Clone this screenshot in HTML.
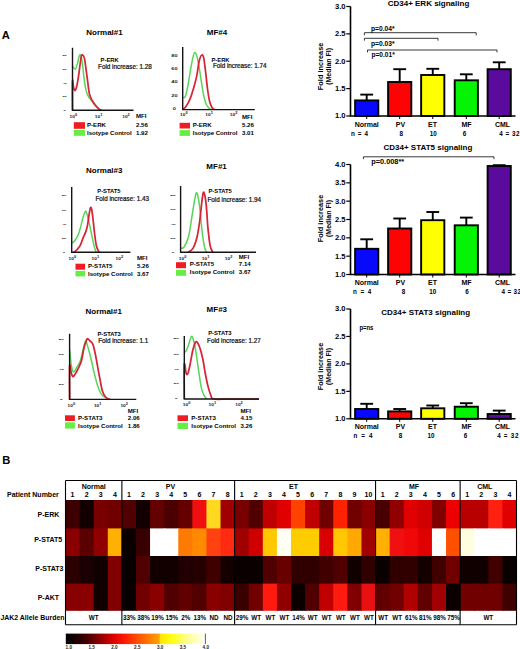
<!DOCTYPE html><html><head><meta charset="utf-8"><style>html,body{margin:0;padding:0;background:#fff;overflow:hidden;}svg{display:block;font-family:"Liberation Sans",sans-serif;}</style></head><body>
<svg width="520" height="649" viewBox="0 0 520 649">
<rect width="520" height="649" fill="#fff"/>
<text x="1.7" y="38.7" font-size="11.2" font-weight="bold">A</text>
<text x="2.2" y="464.3" font-size="11.2" font-weight="bold">B</text>
<text x="104.5" y="35.4" font-size="8" font-weight="bold" text-anchor="middle">Normal#1</text>
<text transform="translate(64.6,56.09) scale(1.22,0.6)" font-size="3.2" font-weight="bold" text-anchor="middle" fill="#222">80</text>
<text transform="translate(64.6,69.59) scale(1.22,0.6)" font-size="3.2" font-weight="bold" text-anchor="middle" fill="#222">60</text>
<text transform="translate(64.6,83.69) scale(1.22,0.6)" font-size="3.2" font-weight="bold" text-anchor="middle" fill="#222">40</text>
<text transform="translate(64.6,97.29) scale(1.22,0.6)" font-size="3.2" font-weight="bold" text-anchor="middle" fill="#222">20</text>
<text transform="translate(64.6,110.69) scale(1.22,0.6)" font-size="3.2" font-weight="bold" text-anchor="middle" fill="#222">0</text>
<text transform="translate(73.4,117.8) scale(1.35,1)" font-size="3.6" font-weight="bold" text-anchor="middle" fill="#1a1a1a">10<tspan font-size="2.9" dy="-1.6">0</tspan></text>
<text transform="translate(98.6,117.8) scale(1.35,1)" font-size="3.6" font-weight="bold" text-anchor="middle" fill="#1a1a1a">10<tspan font-size="2.9" dy="-1.6">1</tspan></text>
<text transform="translate(126,117.8) scale(1.35,1)" font-size="3.6" font-weight="bold" text-anchor="middle" fill="#1a1a1a">10<tspan font-size="2.9" dy="-1.6">2</tspan></text>
<path d="M72.5,65.9 C72.93,66.47 74.28,69.65 75.1,69.3 C75.92,68.95 76.67,66.1 77.4,63.8 C78.13,61.5 78.88,56.72 79.5,55.5 C80.12,54.28 80.57,54.77 81.1,56.5 C81.63,58.23 82.18,62.05 82.7,65.9 C83.22,69.75 83.6,75.4 84.2,79.6 C84.8,83.8 85.52,88.13 86.3,91.1 C87.08,94.07 87.77,95.57 88.9,97.4 C90.03,99.23 91.7,100.53 93.1,102.1 C94.5,103.67 96.07,105.48 97.3,106.8 C98.53,108.12 99.8,109.42 100.5,110 C101.2,110.58 101.33,110.25 101.5,110.3" fill="none" stroke="#58d458" stroke-width="1.5" stroke-linejoin="round"/>
<path d="M72.5,110.3 C72.5,105.43 72.32,84.9 72.5,81.1 C72.68,77.3 73.17,85.93 73.6,87.5 C74.03,89.07 74.57,90.75 75.1,90.5 C75.63,90.25 76.23,88.35 76.8,86 C77.37,83.65 77.78,81.13 78.5,76.4 C79.22,71.67 80.4,61.17 81.1,57.6 C81.8,54.03 82.13,54.83 82.7,55 C83.27,55.17 83.9,55.9 84.5,58.6 C85.1,61.3 85.7,66.83 86.3,71.2 C86.9,75.57 87.57,80.97 88.1,84.8 C88.63,88.63 88.83,91.58 89.5,94.2 C90.17,96.82 91.15,98.67 92.1,100.5 C93.05,102.33 93.98,103.72 95.2,105.2 C96.42,106.68 98.35,108.55 99.4,109.4 C100.45,110.25 101.15,110.15 101.5,110.3" fill="none" stroke="#d42636" stroke-width="1.75" stroke-linejoin="round"/>
<path d="M72.5,47.7V110.3H133.5" fill="none" stroke="#141414" stroke-width="1.4"/>
<text x="100.6" y="61.9" font-size="5.8" font-weight="bold">P-ERK</text>
<text x="98.1" y="68.5" font-size="6.3" fill="#111" stroke="#111" stroke-width="0.22">Fold increase: 1.28</text>
<rect x="73.8" y="122.2" width="11.2" height="6.6" fill="#ee1c24"/>
<rect x="73.8" y="130" width="11.2" height="5.8" fill="#66ee44"/>
<text x="87" y="127.3" font-size="6.1" font-weight="bold">P-ERK</text>
<text x="87" y="135" font-size="6.1" font-weight="bold">Isotype Control</text>
<text x="136" y="118" font-size="6.1" font-weight="bold">MFI</text>
<text x="136" y="127.3" font-size="6.1" font-weight="bold">2.56</text>
<text x="136" y="135" font-size="6.1" font-weight="bold">1.92</text>
<text x="217" y="34.6" font-size="8" font-weight="bold" text-anchor="middle">MF#4</text>
<text transform="translate(174.4,57.3) scale(1.57,0.85)" font-size="3.6" font-weight="bold" text-anchor="middle" fill="#222">80</text>
<text transform="translate(174.4,69.9) scale(1.57,0.85)" font-size="3.6" font-weight="bold" text-anchor="middle" fill="#222">60</text>
<text transform="translate(174.4,83.4) scale(1.57,0.85)" font-size="3.6" font-weight="bold" text-anchor="middle" fill="#222">40</text>
<text transform="translate(174.4,96.9) scale(1.57,0.85)" font-size="3.6" font-weight="bold" text-anchor="middle" fill="#222">20</text>
<text transform="translate(174.4,110.1) scale(1.57,0.85)" font-size="3.6" font-weight="bold" text-anchor="middle" fill="#222">0</text>
<text transform="translate(183.8,116) scale(1.35,1)" font-size="3.6" font-weight="bold" text-anchor="middle" fill="#1a1a1a">10<tspan font-size="2.9" dy="-1.6">0</tspan></text>
<text transform="translate(209.1,116) scale(1.35,1)" font-size="3.6" font-weight="bold" text-anchor="middle" fill="#1a1a1a">10<tspan font-size="2.9" dy="-1.6">1</tspan></text>
<text transform="translate(233.6,116) scale(1.35,1)" font-size="3.6" font-weight="bold" text-anchor="middle" fill="#1a1a1a">10<tspan font-size="2.9" dy="-1.6">2</tspan></text>
<path d="M182.9,97.6 C183.32,97.4 184.57,98.42 185.4,96.4 C186.23,94.38 186.98,90.28 187.9,85.5 C188.82,80.72 190,72.63 190.9,67.7 C191.8,62.77 192.65,58.42 193.3,55.9 C193.95,53.38 194.22,52.6 194.8,52.6 C195.38,52.6 196.07,53.38 196.8,55.9 C197.53,58.42 198.47,63.58 199.2,67.7 C199.93,71.82 200.45,75.98 201.2,80.6 C201.95,85.22 202.87,91.45 203.7,95.4 C204.53,99.35 205.3,102.17 206.2,104.3 C207.1,106.43 208.3,107.32 209.1,108.2 C209.9,109.08 210.68,109.37 211,109.6" fill="none" stroke="#58d458" stroke-width="1.5" stroke-linejoin="round"/>
<path d="M182.7,109.6 C183.23,109.08 184.7,108.22 185.9,106.5 C187.1,104.78 188.58,102.47 189.9,99.3 C191.22,96.13 192.65,91.45 193.8,87.5 C194.95,83.55 195.9,80.02 196.8,75.6 C197.7,71.18 198.38,64.42 199.2,61 C200.02,57.58 200.95,55.62 201.7,55.1 C202.45,54.58 203.03,54.97 203.7,57.9 C204.37,60.83 205.05,67.43 205.7,72.7 C206.35,77.97 206.95,84.73 207.6,89.5 C208.25,94.27 208.85,98.27 209.6,101.3 C210.35,104.33 211.28,106.32 212.1,107.7 C212.92,109.08 214.1,109.28 214.5,109.6" fill="none" stroke="#d42636" stroke-width="1.75" stroke-linejoin="round"/>
<path d="M182.7,47.1V109.6H254.8" fill="none" stroke="#141414" stroke-width="1.4"/>
<text x="211.5" y="62" font-size="5.8" font-weight="bold">P-ERK</text>
<text x="212.9" y="68.3" font-size="6.3" fill="#111" stroke="#111" stroke-width="0.22">Fold increase: 1.74</text>
<rect x="179.6" y="122.8" width="10.4" height="5.7" fill="#ee1c24"/>
<rect x="179.6" y="130.1" width="10.4" height="5.8" fill="#66ee44"/>
<text x="192.7" y="126.5" font-size="6.1" font-weight="bold">P-ERK</text>
<text x="192.7" y="134.7" font-size="6.1" font-weight="bold">Isotype Control</text>
<text x="242" y="118.7" font-size="6.1" font-weight="bold">MFI</text>
<text x="242" y="126.5" font-size="6.1" font-weight="bold">5.26</text>
<text x="242" y="134.7" font-size="6.1" font-weight="bold">3.01</text>
<text x="104.25" y="172.5" font-size="8" font-weight="bold" text-anchor="middle">Normal#3</text>
<text transform="translate(64,196.29) scale(1.22,0.6)" font-size="3.2" font-weight="bold" text-anchor="middle" fill="#222">80</text>
<text transform="translate(64,210.69) scale(1.22,0.6)" font-size="3.2" font-weight="bold" text-anchor="middle" fill="#222">60</text>
<text transform="translate(64,225.09) scale(1.22,0.6)" font-size="3.2" font-weight="bold" text-anchor="middle" fill="#222">40</text>
<text transform="translate(64,239.19) scale(1.22,0.6)" font-size="3.2" font-weight="bold" text-anchor="middle" fill="#222">20</text>
<text transform="translate(64,252.99) scale(1.22,0.6)" font-size="3.2" font-weight="bold" text-anchor="middle" fill="#222">0</text>
<text transform="translate(72.3,259.8) scale(1.35,1)" font-size="3.6" font-weight="bold" text-anchor="middle" fill="#1a1a1a">10<tspan font-size="2.9" dy="-1.6">0</tspan></text>
<text transform="translate(95.4,259.8) scale(1.35,1)" font-size="3.6" font-weight="bold" text-anchor="middle" fill="#1a1a1a">10<tspan font-size="2.9" dy="-1.6">1</tspan></text>
<text transform="translate(119.4,259.8) scale(1.35,1)" font-size="3.6" font-weight="bold" text-anchor="middle" fill="#1a1a1a">10<tspan font-size="2.9" dy="-1.6">2</tspan></text>
<path d="M71.9,243.1 C72.4,242.67 73.83,241.93 74.9,240.5 C75.97,239.07 77.3,236.93 78.3,234.5 C79.3,232.07 80.1,228.78 80.9,225.9 C81.7,223.02 82.38,219.58 83.1,217.2 C83.82,214.82 84.63,212.38 85.2,211.6 C85.77,210.82 85.92,210.98 86.5,212.5 C87.08,214.02 87.9,217.32 88.7,220.7 C89.5,224.08 90.52,229.07 91.3,232.8 C92.08,236.53 92.68,240.08 93.4,243.1 C94.12,246.12 95.07,249.37 95.6,250.9 C96.13,252.43 96.43,252.07 96.6,252.3" fill="none" stroke="#58d458" stroke-width="1.5" stroke-linejoin="round"/>
<path d="M74,252.3 C74.43,251.92 75.58,251.1 76.6,250 C77.62,248.9 79.02,247.72 80.1,245.7 C81.18,243.68 82.17,240.2 83.1,237.9 C84.03,235.6 84.98,233.9 85.7,231.9 C86.42,229.9 86.83,228.77 87.4,225.9 C87.97,223.03 88.6,217.72 89.1,214.7 C89.6,211.68 89.97,208.67 90.4,207.8 C90.83,206.93 91.27,207.63 91.7,209.5 C92.13,211.37 92.5,214.83 93,219 C93.5,223.17 94.13,230.05 94.7,234.5 C95.27,238.95 95.75,242.9 96.4,245.7 C97.05,248.5 98.02,250.2 98.6,251.3 C99.18,252.4 99.68,252.13 99.9,252.3" fill="none" stroke="#d42636" stroke-width="1.75" stroke-linejoin="round"/>
<path d="M71.7,187V252.3H130.4" fill="none" stroke="#141414" stroke-width="1.4"/>
<text x="97.3" y="192.7" font-size="5.8" font-weight="bold">P-STAT5</text>
<text x="95.4" y="201.3" font-size="6.3" fill="#111" stroke="#111" stroke-width="0.22">Fold increase: 1.43</text>
<rect x="75.5" y="263.7" width="9.6" height="6" fill="#ee1c24"/>
<rect x="75.5" y="270.9" width="9.6" height="5.5" fill="#66ee44"/>
<text x="88" y="268.4" font-size="6.1" font-weight="bold">P-STAT5</text>
<text x="88" y="276" font-size="6.1" font-weight="bold">Isotype Control</text>
<text x="137" y="260.3" font-size="6.1" font-weight="bold">MFI</text>
<text x="137" y="268.4" font-size="6.1" font-weight="bold">5.26</text>
<text x="137" y="276" font-size="6.1" font-weight="bold">3.67</text>
<text x="216.6" y="169" font-size="8" font-weight="bold" text-anchor="middle">MF#1</text>
<text transform="translate(173,195.76) scale(1.4,0.62)" font-size="3.4" font-weight="bold" text-anchor="middle" fill="#222">80</text>
<text transform="translate(173,209.76) scale(1.4,0.62)" font-size="3.4" font-weight="bold" text-anchor="middle" fill="#222">60</text>
<text transform="translate(173,224.76) scale(1.4,0.62)" font-size="3.4" font-weight="bold" text-anchor="middle" fill="#222">40</text>
<text transform="translate(173,238.56) scale(1.4,0.62)" font-size="3.4" font-weight="bold" text-anchor="middle" fill="#222">20</text>
<text transform="translate(173,252.56) scale(1.4,0.62)" font-size="3.4" font-weight="bold" text-anchor="middle" fill="#222">0</text>
<text transform="translate(182.6,259.8) scale(1.35,1)" font-size="3.6" font-weight="bold" text-anchor="middle" fill="#1a1a1a">10<tspan font-size="2.9" dy="-1.6">0</tspan></text>
<text transform="translate(205.6,259.8) scale(1.35,1)" font-size="3.6" font-weight="bold" text-anchor="middle" fill="#1a1a1a">10<tspan font-size="2.9" dy="-1.6">1</tspan></text>
<text transform="translate(228.6,259.8) scale(1.35,1)" font-size="3.6" font-weight="bold" text-anchor="middle" fill="#1a1a1a">10<tspan font-size="2.9" dy="-1.6">2</tspan></text>
<path d="M180.8,248.3 C181.33,248.08 182.72,248.93 184,247 C185.28,245.07 187.17,241.83 188.5,236.7 C189.83,231.57 190.95,222.47 192,216.2 C193.05,209.93 194,203 194.8,199.1 C195.6,195.2 196.03,191.85 196.8,192.8 C197.57,193.75 198.68,199.95 199.4,204.8 C200.12,209.65 200.53,216.58 201.1,221.9 C201.67,227.22 202.23,232.52 202.8,236.7 C203.37,240.88 203.9,244.42 204.5,247 C205.1,249.58 206.08,251.33 206.4,252.2" fill="none" stroke="#58d458" stroke-width="1.5" stroke-linejoin="round"/>
<path d="M188.3,252.2 C189.1,251.52 191.63,250.68 193.1,248.1 C194.57,245.52 195.97,241.45 197.1,236.7 C198.23,231.95 199.05,225.87 199.9,219.6 C200.75,213.33 201.53,203.65 202.2,199.1 C202.87,194.55 203.23,191.35 203.9,192.3 C204.57,193.25 205.53,198.92 206.2,204.8 C206.87,210.68 207.23,220.75 207.9,227.6 C208.57,234.45 209.4,241.8 210.2,245.9 C211,250 212.28,251.15 212.7,252.2" fill="none" stroke="#d42636" stroke-width="1.75" stroke-linejoin="round"/>
<path d="M180.6,186V252.2H256" fill="none" stroke="#141414" stroke-width="1.4"/>
<text x="208.5" y="193" font-size="5.8" font-weight="bold">P-STAT5</text>
<text x="207.5" y="202" font-size="6.3" fill="#111" stroke="#111" stroke-width="0.22">Fold increase: 1.94</text>
<rect x="176" y="262.2" width="10" height="6" fill="#ee1c24"/>
<rect x="176" y="269.8" width="10" height="6" fill="#66ee44"/>
<text x="189.7" y="266.2" font-size="6.1" font-weight="bold">P-STAT5</text>
<text x="189.7" y="273.8" font-size="6.1" font-weight="bold">Isotype Control</text>
<text x="238.8" y="259.2" font-size="6.1" font-weight="bold">MFI</text>
<text x="238.8" y="266.2" font-size="6.1" font-weight="bold">7.14</text>
<text x="238.8" y="273.8" font-size="6.1" font-weight="bold">3.67</text>
<text x="103.75" y="313.8" font-size="8" font-weight="bold" text-anchor="middle">Normal#1</text>
<text transform="translate(61.2,339.66) scale(1.4,0.62)" font-size="3.4" font-weight="bold" text-anchor="middle" fill="#222">80</text>
<text transform="translate(61.2,354.76) scale(1.4,0.62)" font-size="3.4" font-weight="bold" text-anchor="middle" fill="#222">60</text>
<text transform="translate(61.2,370.16) scale(1.4,0.62)" font-size="3.4" font-weight="bold" text-anchor="middle" fill="#222">40</text>
<text transform="translate(61.2,384.96) scale(1.4,0.62)" font-size="3.4" font-weight="bold" text-anchor="middle" fill="#222">20</text>
<text transform="translate(61.2,399.76) scale(1.4,0.62)" font-size="3.4" font-weight="bold" text-anchor="middle" fill="#222">0</text>
<text transform="translate(71.3,406.5) scale(1.35,1)" font-size="3.6" font-weight="bold" text-anchor="middle" fill="#1a1a1a">10<tspan font-size="2.9" dy="-1.6">0</tspan></text>
<text transform="translate(97.7,406.5) scale(1.35,1)" font-size="3.6" font-weight="bold" text-anchor="middle" fill="#1a1a1a">10<tspan font-size="2.9" dy="-1.6">1</tspan></text>
<text transform="translate(124.2,406.5) scale(1.35,1)" font-size="3.6" font-weight="bold" text-anchor="middle" fill="#1a1a1a">10<tspan font-size="2.9" dy="-1.6">2</tspan></text>
<path d="M69.6,349.5 C69.88,352.08 70.65,361.25 71.3,365 C71.95,368.75 72.55,371.67 73.5,372 C74.45,372.33 75.88,368.78 77,367 C78.12,365.22 79.2,364.13 80.2,361.3 C81.2,358.47 82.12,353.33 83,350 C83.88,346.67 84.67,341.72 85.5,341.3 C86.33,340.88 87.12,344.72 88,347.5 C88.88,350.28 89.8,353.92 90.8,358 C91.8,362.08 92.95,367.67 94,372 C95.05,376.33 96.05,380.58 97.1,384 C98.15,387.42 99.23,390.42 100.3,392.5 C101.37,394.58 101.92,395.35 103.5,396.5 C105.08,397.65 108.75,398.92 109.8,399.4" fill="none" stroke="#58d458" stroke-width="1.5" stroke-linejoin="round"/>
<path d="M69.6,399.4 C69.6,393.83 69.32,370.4 69.6,366 C69.88,361.6 70.68,371.25 71.3,373 C71.92,374.75 72.27,377 73.3,376.5 C74.33,376 76.17,372.53 77.5,370 C78.83,367.47 80.22,364.97 81.3,361.3 C82.38,357.63 83.05,351.7 84,348 C84.95,344.3 86,340.27 87,339.1 C88,337.93 89.02,340.12 90,341 C90.98,341.88 91.98,342.07 92.9,344.4 C93.82,346.73 94.62,350.77 95.5,355 C96.38,359.23 97.37,365.3 98.2,369.8 C99.03,374.3 99.8,378.47 100.5,382 C101.2,385.53 101.57,388.5 102.4,391 C103.23,393.5 104.27,395.6 105.5,397 C106.73,398.4 109.08,399 109.8,399.4" fill="none" stroke="#d42636" stroke-width="1.75" stroke-linejoin="round"/>
<path d="M69.6,333.8V399.4H136.3" fill="none" stroke="#141414" stroke-width="1.4"/>
<text x="97.5" y="335.5" font-size="5.8" font-weight="bold">P-STAT3</text>
<text x="98.2" y="343.4" font-size="6.3" fill="#111" stroke="#111" stroke-width="0.22">Fold increase: 1.1</text>
<rect x="65" y="415.3" width="9.9" height="5.7" fill="#ee1c24"/>
<rect x="65" y="422.3" width="9.9" height="6.3" fill="#66ee44"/>
<text x="78" y="420.1" font-size="6.1" font-weight="bold">P-STAT3</text>
<text x="78" y="427.7" font-size="6.1" font-weight="bold">Isotype Control</text>
<text x="127.8" y="412.5" font-size="6.1" font-weight="bold">MFI</text>
<text x="127.8" y="420.1" font-size="6.1" font-weight="bold">2.06</text>
<text x="127.8" y="427.7" font-size="6.1" font-weight="bold">1.86</text>
<text x="216.85" y="312.3" font-size="8" font-weight="bold" text-anchor="middle">MF#3</text>
<text transform="translate(176.2,339.46) scale(1.4,0.62)" font-size="3.4" font-weight="bold" text-anchor="middle" fill="#222">80</text>
<text transform="translate(176.2,354.76) scale(1.4,0.62)" font-size="3.4" font-weight="bold" text-anchor="middle" fill="#222">60</text>
<text transform="translate(176.2,369.56) scale(1.4,0.62)" font-size="3.4" font-weight="bold" text-anchor="middle" fill="#222">40</text>
<text transform="translate(176.2,384.36) scale(1.4,0.62)" font-size="3.4" font-weight="bold" text-anchor="middle" fill="#222">20</text>
<text transform="translate(176.2,399.16) scale(1.4,0.62)" font-size="3.4" font-weight="bold" text-anchor="middle" fill="#222">0</text>
<text transform="translate(186.6,405.8) scale(1.35,1)" font-size="3.6" font-weight="bold" text-anchor="middle" fill="#1a1a1a">10<tspan font-size="2.9" dy="-1.6">0</tspan></text>
<text transform="translate(212.4,405.8) scale(1.35,1)" font-size="3.6" font-weight="bold" text-anchor="middle" fill="#1a1a1a">10<tspan font-size="2.9" dy="-1.6">1</tspan></text>
<text transform="translate(239,405.8) scale(1.35,1)" font-size="3.6" font-weight="bold" text-anchor="middle" fill="#1a1a1a">10<tspan font-size="2.9" dy="-1.6">2</tspan></text>
<path d="M184.4,352.5 C184.72,352.13 185.62,351.55 186.3,350.3 C186.98,349.05 187.68,347.23 188.5,345 C189.32,342.77 190.48,338.08 191.2,336.9 C191.92,335.72 192.18,336.38 192.8,337.9 C193.42,339.42 194.18,342.32 194.9,346 C195.62,349.68 196.37,355.13 197.1,360 C197.83,364.87 198.58,370.52 199.3,375.2 C200.02,379.88 200.6,384.7 201.4,388.1 C202.2,391.5 203.17,393.78 204.1,395.6 C205.03,397.42 206.52,398.43 207,399" fill="none" stroke="#58d458" stroke-width="1.5" stroke-linejoin="round"/>
<path d="M184.3,399 C184.3,393.23 183.97,368.63 184.3,364.4 C184.63,360.17 185.7,372.08 186.3,373.6 C186.9,375.12 187.27,375.03 187.9,373.5 C188.53,371.97 189.28,368.27 190.1,364.4 C190.92,360.53 191.9,354 192.8,350.3 C193.7,346.6 194.7,343.45 195.5,342.2 C196.3,340.95 196.8,341.62 197.6,342.8 C198.4,343.98 199.4,346.43 200.3,349.3 C201.2,352.17 202.18,356.05 203,360 C203.82,363.95 204.38,368.68 205.2,373 C206.02,377.32 207,382.3 207.9,385.9 C208.8,389.5 209.67,392.42 210.6,394.6 C211.53,396.78 210.27,398.27 213.5,399 C216.73,399.73 222.42,399 230,399 C237.58,399 254.17,399 259,399" fill="none" stroke="#d42636" stroke-width="1.75" stroke-linejoin="round"/>
<path d="M184.3,336V399H259" fill="none" stroke="#141414" stroke-width="1.4"/>
<text x="208.2" y="334.9" font-size="5.8" font-weight="bold">P-STAT3</text>
<text x="207.1" y="343.4" font-size="6.3" fill="#111" stroke="#111" stroke-width="0.22">Fold increase: 1.27</text>
<rect x="177.5" y="415.3" width="10.5" height="5.7" fill="#ee1c24"/>
<rect x="177.5" y="422.7" width="10.5" height="6.3" fill="#66ee44"/>
<text x="191.3" y="420.4" font-size="6.1" font-weight="bold">P-STAT3</text>
<text x="191.3" y="428.3" font-size="6.1" font-weight="bold">Isotype Control</text>
<text x="240.5" y="412.6" font-size="6.1" font-weight="bold">MFI</text>
<text x="240.5" y="420.4" font-size="6.1" font-weight="bold">4.15</text>
<text x="240.5" y="428.3" font-size="6.1" font-weight="bold">3.26</text>
<text x="387.7" y="5.8" font-size="8" font-weight="bold">CD34+ ERK signaling</text>
<text transform="translate(345.6,8.85) scale(1.17,1)" font-size="6.5" font-weight="bold" text-anchor="end">3.0</text>
<line x1="346.3" y1="6.5" x2="350.5" y2="6.5" stroke="#000" stroke-width="1.2"/>
<text transform="translate(345.6,36.23) scale(1.17,1)" font-size="6.5" font-weight="bold" text-anchor="end">2.5</text>
<line x1="346.3" y1="33.88" x2="350.5" y2="33.88" stroke="#000" stroke-width="1.2"/>
<text transform="translate(345.6,63.6) scale(1.17,1)" font-size="6.5" font-weight="bold" text-anchor="end">2.0</text>
<line x1="346.3" y1="61.25" x2="350.5" y2="61.25" stroke="#000" stroke-width="1.2"/>
<text transform="translate(345.6,90.97) scale(1.17,1)" font-size="6.5" font-weight="bold" text-anchor="end">1.5</text>
<line x1="346.3" y1="88.62" x2="350.5" y2="88.62" stroke="#000" stroke-width="1.2"/>
<text transform="translate(345.6,118.35) scale(1.17,1)" font-size="6.5" font-weight="bold" text-anchor="end">1.0</text>
<line x1="346.3" y1="116" x2="350.5" y2="116" stroke="#000" stroke-width="1.2"/>
<text transform="translate(323.1,66.4) rotate(-90)" font-size="7.3" font-weight="bold" text-anchor="middle" textLength="47.5" lengthAdjust="spacing">Fold increase</text>
<text transform="translate(331.1,66.4) rotate(-90)" font-size="7" font-weight="bold" text-anchor="middle">(Median FI)</text>
<line x1="366.7" y1="100.4" x2="366.7" y2="94.6" stroke="#000" stroke-width="1.9"/>
<line x1="360.3" y1="94.6" x2="373.1" y2="94.6" stroke="#000" stroke-width="1.9"/>
<rect x="355.1" y="100.4" width="23.2" height="15.6" fill="#0808fa" stroke="#000" stroke-width="1.9"/>
<line x1="366.7" y1="116" x2="366.7" y2="119" stroke="#000" stroke-width="1"/>
<text x="366.7" y="126.8" font-size="7" font-weight="bold" text-anchor="middle">Normal</text>
<line x1="399.7" y1="82" x2="399.7" y2="69.2" stroke="#000" stroke-width="1.9"/>
<line x1="393.3" y1="69.2" x2="406.1" y2="69.2" stroke="#000" stroke-width="1.9"/>
<rect x="388.1" y="82" width="23.2" height="34" fill="#fc0404" stroke="#000" stroke-width="1.9"/>
<line x1="399.7" y1="116" x2="399.7" y2="119" stroke="#000" stroke-width="1"/>
<text x="400.5" y="126.8" font-size="7" font-weight="bold" text-anchor="middle">PV</text>
<line x1="432.75" y1="75" x2="432.75" y2="68.8" stroke="#000" stroke-width="1.9"/>
<line x1="426.35" y1="68.8" x2="439.15" y2="68.8" stroke="#000" stroke-width="1.9"/>
<rect x="421.15" y="75" width="23.2" height="41" fill="#ffff00" stroke="#000" stroke-width="1.9"/>
<line x1="432.75" y1="116" x2="432.75" y2="119" stroke="#000" stroke-width="1"/>
<text x="432.5" y="126.8" font-size="7" font-weight="bold" text-anchor="middle">ET</text>
<line x1="466.3" y1="80.3" x2="466.3" y2="74.3" stroke="#000" stroke-width="1.9"/>
<line x1="459.9" y1="74.3" x2="472.7" y2="74.3" stroke="#000" stroke-width="1.9"/>
<rect x="454.7" y="80.3" width="23.2" height="35.7" fill="#04f404" stroke="#000" stroke-width="1.9"/>
<line x1="466.3" y1="116" x2="466.3" y2="119" stroke="#000" stroke-width="1"/>
<text x="466.5" y="126.8" font-size="7" font-weight="bold" text-anchor="middle">MF</text>
<line x1="499.2" y1="69.2" x2="499.2" y2="62.3" stroke="#000" stroke-width="1.9"/>
<line x1="492.8" y1="62.3" x2="505.6" y2="62.3" stroke="#000" stroke-width="1.9"/>
<rect x="487.6" y="69.2" width="23.2" height="46.8" fill="#5a0a9c" stroke="#000" stroke-width="1.9"/>
<line x1="499.2" y1="116" x2="499.2" y2="119" stroke="#000" stroke-width="1"/>
<text x="502.5" y="126.8" font-size="7" font-weight="bold" text-anchor="middle">CML</text>
<path d="M350.5,6.5V116H515.5" fill="none" stroke="#000" stroke-width="1.6"/>
<text x="351" y="135.9" font-size="6.3" font-weight="bold" textLength="17" lengthAdjust="spacing">n = 4</text>
<text x="401.2" y="135.9" font-size="6.3" font-weight="bold" text-anchor="middle">8</text>
<text x="433.2" y="135.9" font-size="6.3" font-weight="bold" text-anchor="middle">10</text>
<text x="464.5" y="135.9" font-size="6.3" font-weight="bold" text-anchor="middle">6</text>
<text x="499.2" y="135.9" font-size="6.3" font-weight="bold" textLength="20.2" lengthAdjust="spacing">4 = 32</text>
<text x="383.5" y="149.6" font-size="8" font-weight="bold">CD34+ STAT5 signaling</text>
<text transform="translate(345.6,166.85) scale(1.17,1)" font-size="6.5" font-weight="bold" text-anchor="end">4.0</text>
<line x1="346.3" y1="164.5" x2="350.5" y2="164.5" stroke="#000" stroke-width="1.2"/>
<text transform="translate(345.6,185.18) scale(1.17,1)" font-size="6.5" font-weight="bold" text-anchor="end">3.5</text>
<line x1="346.3" y1="182.83" x2="350.5" y2="182.83" stroke="#000" stroke-width="1.2"/>
<text transform="translate(345.6,203.52) scale(1.17,1)" font-size="6.5" font-weight="bold" text-anchor="end">3.0</text>
<line x1="346.3" y1="201.17" x2="350.5" y2="201.17" stroke="#000" stroke-width="1.2"/>
<text transform="translate(345.6,221.85) scale(1.17,1)" font-size="6.5" font-weight="bold" text-anchor="end">2.5</text>
<line x1="346.3" y1="219.5" x2="350.5" y2="219.5" stroke="#000" stroke-width="1.2"/>
<text transform="translate(345.6,240.18) scale(1.17,1)" font-size="6.5" font-weight="bold" text-anchor="end">2.0</text>
<line x1="346.3" y1="237.83" x2="350.5" y2="237.83" stroke="#000" stroke-width="1.2"/>
<text transform="translate(345.6,258.52) scale(1.17,1)" font-size="6.5" font-weight="bold" text-anchor="end">1.5</text>
<line x1="346.3" y1="256.17" x2="350.5" y2="256.17" stroke="#000" stroke-width="1.2"/>
<text transform="translate(345.6,276.85) scale(1.17,1)" font-size="6.5" font-weight="bold" text-anchor="end">1.0</text>
<line x1="346.3" y1="274.5" x2="350.5" y2="274.5" stroke="#000" stroke-width="1.2"/>
<text transform="translate(323.1,218.5) rotate(-90)" font-size="7.3" font-weight="bold" text-anchor="middle" textLength="47.5" lengthAdjust="spacing">Fold increase</text>
<text transform="translate(331.1,218.5) rotate(-90)" font-size="7" font-weight="bold" text-anchor="middle">(Median FI)</text>
<line x1="366.7" y1="248.8" x2="366.7" y2="239.3" stroke="#000" stroke-width="1.9"/>
<line x1="360.3" y1="239.3" x2="373.1" y2="239.3" stroke="#000" stroke-width="1.9"/>
<rect x="355.1" y="248.8" width="23.2" height="25.7" fill="#0808fa" stroke="#000" stroke-width="1.9"/>
<line x1="366.7" y1="274.5" x2="366.7" y2="277.5" stroke="#000" stroke-width="1"/>
<text x="366.7" y="285.1" font-size="7" font-weight="bold" text-anchor="middle">Normal</text>
<line x1="399.7" y1="228.5" x2="399.7" y2="218.5" stroke="#000" stroke-width="1.9"/>
<line x1="393.3" y1="218.5" x2="406.1" y2="218.5" stroke="#000" stroke-width="1.9"/>
<rect x="388.1" y="228.5" width="23.2" height="46" fill="#fc0404" stroke="#000" stroke-width="1.9"/>
<line x1="399.7" y1="274.5" x2="399.7" y2="277.5" stroke="#000" stroke-width="1"/>
<text x="400.5" y="285.1" font-size="7" font-weight="bold" text-anchor="middle">PV</text>
<line x1="432.75" y1="220.2" x2="432.75" y2="212" stroke="#000" stroke-width="1.9"/>
<line x1="426.35" y1="212" x2="439.15" y2="212" stroke="#000" stroke-width="1.9"/>
<rect x="421.15" y="220.2" width="23.2" height="54.3" fill="#ffff00" stroke="#000" stroke-width="1.9"/>
<line x1="432.75" y1="274.5" x2="432.75" y2="277.5" stroke="#000" stroke-width="1"/>
<text x="432.5" y="285.1" font-size="7" font-weight="bold" text-anchor="middle">ET</text>
<line x1="466.3" y1="225.3" x2="466.3" y2="217.6" stroke="#000" stroke-width="1.9"/>
<line x1="459.9" y1="217.6" x2="472.7" y2="217.6" stroke="#000" stroke-width="1.9"/>
<rect x="454.7" y="225.3" width="23.2" height="49.2" fill="#04f404" stroke="#000" stroke-width="1.9"/>
<line x1="466.3" y1="274.5" x2="466.3" y2="277.5" stroke="#000" stroke-width="1"/>
<text x="466.5" y="285.1" font-size="7" font-weight="bold" text-anchor="middle">MF</text>
<line x1="499.2" y1="166" x2="499.2" y2="165.2" stroke="#000" stroke-width="1.9"/>
<line x1="492.8" y1="165.2" x2="505.6" y2="165.2" stroke="#000" stroke-width="1.9"/>
<rect x="487.6" y="166" width="23.2" height="108.5" fill="#5a0a9c" stroke="#000" stroke-width="1.9"/>
<line x1="499.2" y1="274.5" x2="499.2" y2="277.5" stroke="#000" stroke-width="1"/>
<text x="502.5" y="285.1" font-size="7" font-weight="bold" text-anchor="middle">CML</text>
<path d="M350.5,164.5V274.5H515.5" fill="none" stroke="#000" stroke-width="1.6"/>
<text x="352.9" y="294.4" font-size="6.3" font-weight="bold" textLength="18.4" lengthAdjust="spacing">n = 4</text>
<text x="403.5" y="294.4" font-size="6.3" font-weight="bold" text-anchor="middle">8</text>
<text x="432.8" y="294.4" font-size="6.3" font-weight="bold" text-anchor="middle">10</text>
<text x="466.9" y="294.4" font-size="6.3" font-weight="bold" text-anchor="middle">6</text>
<text x="501.5" y="294.4" font-size="6.3" font-weight="bold" textLength="19.5" lengthAdjust="spacing">4 = 32</text>
<text x="381.3" y="314.9" font-size="8" font-weight="bold">CD34+ STAT3 signaling</text>
<text transform="translate(345.6,311.35) scale(1.17,1)" font-size="6.5" font-weight="bold" text-anchor="end">3.0</text>
<line x1="346.3" y1="309" x2="350.5" y2="309" stroke="#000" stroke-width="1.2"/>
<text transform="translate(345.6,338.8) scale(1.17,1)" font-size="6.5" font-weight="bold" text-anchor="end">2.5</text>
<line x1="346.3" y1="336.45" x2="350.5" y2="336.45" stroke="#000" stroke-width="1.2"/>
<text transform="translate(345.6,366.25) scale(1.17,1)" font-size="6.5" font-weight="bold" text-anchor="end">2.0</text>
<line x1="346.3" y1="363.9" x2="350.5" y2="363.9" stroke="#000" stroke-width="1.2"/>
<text transform="translate(345.6,393.7) scale(1.17,1)" font-size="6.5" font-weight="bold" text-anchor="end">1.5</text>
<line x1="346.3" y1="391.35" x2="350.5" y2="391.35" stroke="#000" stroke-width="1.2"/>
<text transform="translate(345.6,421.15) scale(1.17,1)" font-size="6.5" font-weight="bold" text-anchor="end">1.0</text>
<line x1="346.3" y1="418.8" x2="350.5" y2="418.8" stroke="#000" stroke-width="1.2"/>
<text transform="translate(323.1,366.5) rotate(-90)" font-size="7.3" font-weight="bold" text-anchor="middle" textLength="47.5" lengthAdjust="spacing">Fold increase</text>
<text transform="translate(331.1,366.5) rotate(-90)" font-size="7" font-weight="bold" text-anchor="middle">(Median FI)</text>
<line x1="366.7" y1="409" x2="366.7" y2="403.8" stroke="#000" stroke-width="1.9"/>
<line x1="360.3" y1="403.8" x2="373.1" y2="403.8" stroke="#000" stroke-width="1.9"/>
<rect x="355.1" y="409" width="23.2" height="9.8" fill="#0808fa" stroke="#000" stroke-width="1.9"/>
<line x1="366.7" y1="418.8" x2="366.7" y2="421.8" stroke="#000" stroke-width="1"/>
<text x="366.7" y="428.9" font-size="7" font-weight="bold" text-anchor="middle">Normal</text>
<line x1="399.7" y1="411.4" x2="399.7" y2="409" stroke="#000" stroke-width="1.9"/>
<line x1="393.3" y1="409" x2="406.1" y2="409" stroke="#000" stroke-width="1.9"/>
<rect x="388.1" y="411.4" width="23.2" height="7.4" fill="#fc0404" stroke="#000" stroke-width="1.9"/>
<line x1="399.7" y1="418.8" x2="399.7" y2="421.8" stroke="#000" stroke-width="1"/>
<text x="400.5" y="428.9" font-size="7" font-weight="bold" text-anchor="middle">PV</text>
<line x1="432.75" y1="408.3" x2="432.75" y2="405.5" stroke="#000" stroke-width="1.9"/>
<line x1="426.35" y1="405.5" x2="439.15" y2="405.5" stroke="#000" stroke-width="1.9"/>
<rect x="421.15" y="408.3" width="23.2" height="10.5" fill="#ffff00" stroke="#000" stroke-width="1.9"/>
<line x1="432.75" y1="418.8" x2="432.75" y2="421.8" stroke="#000" stroke-width="1"/>
<text x="432.5" y="428.9" font-size="7" font-weight="bold" text-anchor="middle">ET</text>
<line x1="466.3" y1="406.7" x2="466.3" y2="403.2" stroke="#000" stroke-width="1.9"/>
<line x1="459.9" y1="403.2" x2="472.7" y2="403.2" stroke="#000" stroke-width="1.9"/>
<rect x="454.7" y="406.7" width="23.2" height="12.1" fill="#04f404" stroke="#000" stroke-width="1.9"/>
<line x1="466.3" y1="418.8" x2="466.3" y2="421.8" stroke="#000" stroke-width="1"/>
<text x="466.5" y="428.9" font-size="7" font-weight="bold" text-anchor="middle">MF</text>
<line x1="499.2" y1="414" x2="499.2" y2="410.6" stroke="#000" stroke-width="1.9"/>
<line x1="492.8" y1="410.6" x2="505.6" y2="410.6" stroke="#000" stroke-width="1.9"/>
<rect x="487.6" y="414" width="23.2" height="4.8" fill="#5a0a9c" stroke="#000" stroke-width="1.9"/>
<line x1="499.2" y1="418.8" x2="499.2" y2="421.8" stroke="#000" stroke-width="1"/>
<text x="502.5" y="428.9" font-size="7" font-weight="bold" text-anchor="middle">CML</text>
<path d="M350.5,309V418.8H515.5" fill="none" stroke="#000" stroke-width="1.6"/>
<text x="353.4" y="438.2" font-size="6.3" font-weight="bold" textLength="19.2" lengthAdjust="spacing">n = 4</text>
<text x="400.6" y="438.2" font-size="6.3" font-weight="bold" text-anchor="middle">8</text>
<text x="430.9" y="438.2" font-size="6.3" font-weight="bold" text-anchor="middle">10</text>
<text x="465.5" y="438.2" font-size="6.3" font-weight="bold" text-anchor="middle">6</text>
<text x="497.2" y="438.2" font-size="6.3" font-weight="bold" textLength="21.2" lengthAdjust="spacing">4 = 32</text>
<path d="M364.4,35.3V32.7H476.2V35.3" fill="none" stroke="#222" stroke-width="0.9"/>
<text x="371" y="31" font-size="6.3" font-weight="bold" textLength="23.6" lengthAdjust="spacingAndGlyphs">p=0.04*</text>
<path d="M364.4,40.7V38.3H438V40.7" fill="none" stroke="#222" stroke-width="0.9"/>
<text x="371" y="45.6" font-size="6.3" font-weight="bold" textLength="23.6" lengthAdjust="spacingAndGlyphs">p=0.03*</text>
<path d="M367.5,52.4V50H497V52.4" fill="none" stroke="#222" stroke-width="0.9"/>
<text x="371.5" y="56.6" font-size="6.3" font-weight="bold" textLength="23.2" lengthAdjust="spacingAndGlyphs">p=0.01*</text>
<path d="M363.4,159.2V156.8H494V159.2" fill="none" stroke="#222" stroke-width="0.9"/>
<text x="371.2" y="163.9" font-size="6.3" font-weight="bold" textLength="33" lengthAdjust="spacingAndGlyphs">p=0.008**</text>
<text x="359.4" y="329.8" font-size="6.3" font-weight="bold" textLength="14" lengthAdjust="spacingAndGlyphs">p=ns</text>
<rect x="65.5" y="500" width="15.09" height="29.4" fill="#3c0000"/>
<rect x="79.59" y="500" width="15.09" height="29.4" fill="#120000"/>
<rect x="93.69" y="500" width="15.09" height="29.4" fill="#780000"/>
<rect x="107.78" y="500" width="15.09" height="29.4" fill="#700000"/>
<rect x="121.88" y="500" width="15.09" height="29.4" fill="#500000"/>
<rect x="135.97" y="500" width="15.09" height="29.4" fill="#120000"/>
<rect x="150.06" y="500" width="15.09" height="29.4" fill="#640000"/>
<rect x="164.16" y="500" width="15.09" height="29.4" fill="#4a0000"/>
<rect x="178.25" y="500" width="15.09" height="29.4" fill="#640000"/>
<rect x="192.34" y="500" width="15.09" height="29.4" fill="#f01010"/>
<rect x="206.44" y="500" width="15.09" height="29.4" fill="#ffd820"/>
<rect x="220.53" y="500" width="15.09" height="29.4" fill="#a00000"/>
<rect x="234.62" y="500" width="15.09" height="29.4" fill="#780000"/>
<rect x="248.72" y="500" width="15.09" height="29.4" fill="#500000"/>
<rect x="262.81" y="500" width="15.09" height="29.4" fill="#c00000"/>
<rect x="276.91" y="500" width="15.09" height="29.4" fill="#e00000"/>
<rect x="291" y="500" width="15.09" height="29.4" fill="#ff4200"/>
<rect x="305.09" y="500" width="15.09" height="29.4" fill="#c00000"/>
<rect x="319.19" y="500" width="15.09" height="29.4" fill="#700000"/>
<rect x="333.28" y="500" width="15.09" height="29.4" fill="#ff2200"/>
<rect x="347.38" y="500" width="15.09" height="29.4" fill="#700000"/>
<rect x="361.47" y="500" width="15.09" height="29.4" fill="#8a0000"/>
<rect x="375.56" y="500" width="15.09" height="29.4" fill="#480000"/>
<rect x="389.66" y="500" width="15.09" height="29.4" fill="#900000"/>
<rect x="403.75" y="500" width="15.09" height="29.4" fill="#e00000"/>
<rect x="417.84" y="500" width="15.09" height="29.4" fill="#d00000"/>
<rect x="431.94" y="500" width="15.09" height="29.4" fill="#800000"/>
<rect x="446.03" y="500" width="15.09" height="29.4" fill="#ec0000"/>
<rect x="460.12" y="500" width="15.09" height="29.4" fill="#b80000"/>
<rect x="474.22" y="500" width="15.09" height="29.4" fill="#b80000"/>
<rect x="488.31" y="500" width="15.09" height="29.4" fill="#ff2010"/>
<rect x="502.41" y="500" width="14.09" height="29.4" fill="#e00000"/>
<rect x="65.5" y="528.4" width="15.09" height="28.6" fill="#8a0000"/>
<rect x="79.59" y="528.4" width="15.09" height="28.6" fill="#5a0000"/>
<rect x="93.69" y="528.4" width="15.09" height="28.6" fill="#900000"/>
<rect x="107.78" y="528.4" width="15.09" height="28.6" fill="#ffb000"/>
<rect x="121.88" y="528.4" width="15.09" height="28.6" fill="#0a0000"/>
<rect x="135.97" y="528.4" width="15.09" height="28.6" fill="#380000"/>
<rect x="150.06" y="528.4" width="15.09" height="28.6" fill="#ffffff"/>
<rect x="164.16" y="528.4" width="15.09" height="28.6" fill="#ffffff"/>
<rect x="178.25" y="528.4" width="15.09" height="28.6" fill="#ff7a00"/>
<rect x="192.34" y="528.4" width="15.09" height="28.6" fill="#ff8a00"/>
<rect x="206.44" y="528.4" width="15.09" height="28.6" fill="#ff4210"/>
<rect x="220.53" y="528.4" width="15.09" height="28.6" fill="#ff2a10"/>
<rect x="234.62" y="528.4" width="15.09" height="28.6" fill="#a00000"/>
<rect x="248.72" y="528.4" width="15.09" height="28.6" fill="#d00000"/>
<rect x="262.81" y="528.4" width="15.09" height="28.6" fill="#ffc800"/>
<rect x="276.91" y="528.4" width="15.09" height="28.6" fill="#fffff4"/>
<rect x="291" y="528.4" width="15.09" height="28.6" fill="#ffcc00"/>
<rect x="305.09" y="528.4" width="15.09" height="28.6" fill="#ffcc00"/>
<rect x="319.19" y="528.4" width="15.09" height="28.6" fill="#d80000"/>
<rect x="333.28" y="528.4" width="15.09" height="28.6" fill="#ffc800"/>
<rect x="347.38" y="528.4" width="15.09" height="28.6" fill="#ffa800"/>
<rect x="361.47" y="528.4" width="15.09" height="28.6" fill="#a00000"/>
<rect x="375.56" y="528.4" width="15.09" height="28.6" fill="#ffb000"/>
<rect x="389.66" y="528.4" width="15.09" height="28.6" fill="#f01010"/>
<rect x="403.75" y="528.4" width="15.09" height="28.6" fill="#f00808"/>
<rect x="417.84" y="528.4" width="15.09" height="28.6" fill="#e00000"/>
<rect x="431.94" y="528.4" width="15.09" height="28.6" fill="#ffffff"/>
<rect x="446.03" y="528.4" width="15.09" height="28.6" fill="#ff5000"/>
<rect x="460.12" y="528.4" width="15.09" height="28.6" fill="#ffffe0"/>
<rect x="474.22" y="528.4" width="15.09" height="28.6" fill="#ffffff"/>
<rect x="488.31" y="528.4" width="15.09" height="28.6" fill="#ffffff"/>
<rect x="502.41" y="528.4" width="14.09" height="28.6" fill="#ffffff"/>
<rect x="65.5" y="556" width="15.09" height="28.6" fill="#2a0000"/>
<rect x="79.59" y="556" width="15.09" height="28.6" fill="#1a0000"/>
<rect x="93.69" y="556" width="15.09" height="28.6" fill="#100000"/>
<rect x="107.78" y="556" width="15.09" height="28.6" fill="#800000"/>
<rect x="121.88" y="556" width="15.09" height="28.6" fill="#080000"/>
<rect x="135.97" y="556" width="15.09" height="28.6" fill="#500000"/>
<rect x="150.06" y="556" width="15.09" height="28.6" fill="#120000"/>
<rect x="164.16" y="556" width="15.09" height="28.6" fill="#120000"/>
<rect x="178.25" y="556" width="15.09" height="28.6" fill="#200000"/>
<rect x="192.34" y="556" width="15.09" height="28.6" fill="#250000"/>
<rect x="206.44" y="556" width="15.09" height="28.6" fill="#400000"/>
<rect x="220.53" y="556" width="15.09" height="28.6" fill="#150000"/>
<rect x="234.62" y="556" width="15.09" height="28.6" fill="#0a0000"/>
<rect x="248.72" y="556" width="15.09" height="28.6" fill="#0a0000"/>
<rect x="262.81" y="556" width="15.09" height="28.6" fill="#500000"/>
<rect x="276.91" y="556" width="15.09" height="28.6" fill="#680000"/>
<rect x="291" y="556" width="15.09" height="28.6" fill="#300000"/>
<rect x="305.09" y="556" width="15.09" height="28.6" fill="#300000"/>
<rect x="319.19" y="556" width="15.09" height="28.6" fill="#400000"/>
<rect x="333.28" y="556" width="15.09" height="28.6" fill="#500000"/>
<rect x="347.38" y="556" width="15.09" height="28.6" fill="#100000"/>
<rect x="361.47" y="556" width="15.09" height="28.6" fill="#300000"/>
<rect x="375.56" y="556" width="15.09" height="28.6" fill="#0a0000"/>
<rect x="389.66" y="556" width="15.09" height="28.6" fill="#300000"/>
<rect x="403.75" y="556" width="15.09" height="28.6" fill="#300000"/>
<rect x="417.84" y="556" width="15.09" height="28.6" fill="#150000"/>
<rect x="431.94" y="556" width="15.09" height="28.6" fill="#400000"/>
<rect x="446.03" y="556" width="15.09" height="28.6" fill="#700000"/>
<rect x="460.12" y="556" width="15.09" height="28.6" fill="#100000"/>
<rect x="474.22" y="556" width="15.09" height="28.6" fill="#100000"/>
<rect x="488.31" y="556" width="15.09" height="28.6" fill="#400000"/>
<rect x="502.41" y="556" width="14.09" height="28.6" fill="#0a0000"/>
<rect x="65.5" y="583.6" width="15.09" height="27.2" fill="#880000"/>
<rect x="79.59" y="583.6" width="15.09" height="27.2" fill="#880000"/>
<rect x="93.69" y="583.6" width="15.09" height="27.2" fill="#100000"/>
<rect x="107.78" y="583.6" width="15.09" height="27.2" fill="#800000"/>
<rect x="121.88" y="583.6" width="15.09" height="27.2" fill="#080000"/>
<rect x="135.97" y="583.6" width="15.09" height="27.2" fill="#700000"/>
<rect x="150.06" y="583.6" width="15.09" height="27.2" fill="#8a0000"/>
<rect x="164.16" y="583.6" width="15.09" height="27.2" fill="#500000"/>
<rect x="178.25" y="583.6" width="15.09" height="27.2" fill="#600000"/>
<rect x="192.34" y="583.6" width="15.09" height="27.2" fill="#500000"/>
<rect x="206.44" y="583.6" width="15.09" height="27.2" fill="#880000"/>
<rect x="220.53" y="583.6" width="15.09" height="27.2" fill="#800000"/>
<rect x="234.62" y="583.6" width="15.09" height="27.2" fill="#3a0000"/>
<rect x="248.72" y="583.6" width="15.09" height="27.2" fill="#700000"/>
<rect x="262.81" y="583.6" width="15.09" height="27.2" fill="#ff1a10"/>
<rect x="276.91" y="583.6" width="15.09" height="27.2" fill="#900000"/>
<rect x="291" y="583.6" width="15.09" height="27.2" fill="#0a0000"/>
<rect x="305.09" y="583.6" width="15.09" height="27.2" fill="#500000"/>
<rect x="319.19" y="583.6" width="15.09" height="27.2" fill="#c00000"/>
<rect x="333.28" y="583.6" width="15.09" height="27.2" fill="#ff1a10"/>
<rect x="347.38" y="583.6" width="15.09" height="27.2" fill="#800000"/>
<rect x="361.47" y="583.6" width="15.09" height="27.2" fill="#e81010"/>
<rect x="375.56" y="583.6" width="15.09" height="27.2" fill="#600000"/>
<rect x="389.66" y="583.6" width="15.09" height="27.2" fill="#700000"/>
<rect x="403.75" y="583.6" width="15.09" height="27.2" fill="#b00000"/>
<rect x="417.84" y="583.6" width="15.09" height="27.2" fill="#600000"/>
<rect x="431.94" y="583.6" width="15.09" height="27.2" fill="#a00000"/>
<rect x="446.03" y="583.6" width="15.09" height="27.2" fill="#0a0000"/>
<rect x="460.12" y="583.6" width="15.09" height="27.2" fill="#700000"/>
<rect x="474.22" y="583.6" width="15.09" height="27.2" fill="#700000"/>
<rect x="488.31" y="583.6" width="15.09" height="27.2" fill="#700000"/>
<rect x="502.41" y="583.6" width="14.09" height="27.2" fill="#400000"/>
<path d="M65.5,480.5H516.5" stroke="#000" stroke-width="1.1"/>
<path d="M65.5,624.7H516.5" stroke="#000" stroke-width="1.1"/>
<path d="M65.5,480.5V624.7" stroke="#000" stroke-width="1.1"/>
<path d="M121.88,480.5V624.7" stroke="#000" stroke-width="1.1"/>
<path d="M234.62,480.5V624.7" stroke="#000" stroke-width="1.1"/>
<path d="M375.56,480.5V624.7" stroke="#000" stroke-width="1.1"/>
<path d="M460.12,480.5V624.7" stroke="#000" stroke-width="1.1"/>
<path d="M516.5,480.5V624.7" stroke="#000" stroke-width="1.1"/>
<text x="93.75" y="488.9" font-size="7" font-weight="bold" text-anchor="middle">Normal</text>
<text x="72.55" y="497.2" font-size="7" font-weight="bold" text-anchor="middle">1</text>
<text x="86.64" y="497.2" font-size="7" font-weight="bold" text-anchor="middle">2</text>
<text x="100.73" y="497.2" font-size="7" font-weight="bold" text-anchor="middle">3</text>
<text x="114.83" y="497.2" font-size="7" font-weight="bold" text-anchor="middle">4</text>
<text x="170.5" y="488.9" font-size="7" font-weight="bold" text-anchor="middle">PV</text>
<text x="128.92" y="497.2" font-size="7" font-weight="bold" text-anchor="middle">1</text>
<text x="143.02" y="497.2" font-size="7" font-weight="bold" text-anchor="middle">2</text>
<text x="157.11" y="497.2" font-size="7" font-weight="bold" text-anchor="middle">3</text>
<text x="171.2" y="497.2" font-size="7" font-weight="bold" text-anchor="middle">4</text>
<text x="185.3" y="497.2" font-size="7" font-weight="bold" text-anchor="middle">5</text>
<text x="199.39" y="497.2" font-size="7" font-weight="bold" text-anchor="middle">6</text>
<text x="213.48" y="497.2" font-size="7" font-weight="bold" text-anchor="middle">7</text>
<text x="227.58" y="497.2" font-size="7" font-weight="bold" text-anchor="middle">8</text>
<text x="293.6" y="488.9" font-size="7" font-weight="bold" text-anchor="middle">ET</text>
<text x="241.67" y="497.2" font-size="7" font-weight="bold" text-anchor="middle">1</text>
<text x="255.77" y="497.2" font-size="7" font-weight="bold" text-anchor="middle">2</text>
<text x="269.86" y="497.2" font-size="7" font-weight="bold" text-anchor="middle">3</text>
<text x="283.95" y="497.2" font-size="7" font-weight="bold" text-anchor="middle">4</text>
<text x="298.05" y="497.2" font-size="7" font-weight="bold" text-anchor="middle">5</text>
<text x="312.14" y="497.2" font-size="7" font-weight="bold" text-anchor="middle">6</text>
<text x="326.23" y="497.2" font-size="7" font-weight="bold" text-anchor="middle">7</text>
<text x="340.33" y="497.2" font-size="7" font-weight="bold" text-anchor="middle">8</text>
<text x="354.42" y="497.2" font-size="7" font-weight="bold" text-anchor="middle">9</text>
<text x="368.52" y="497.2" font-size="7" font-weight="bold" text-anchor="middle">10</text>
<text x="414" y="488.9" font-size="7" font-weight="bold" text-anchor="middle">MF</text>
<text x="382.61" y="497.2" font-size="7" font-weight="bold" text-anchor="middle">1</text>
<text x="396.7" y="497.2" font-size="7" font-weight="bold" text-anchor="middle">2</text>
<text x="410.8" y="497.2" font-size="7" font-weight="bold" text-anchor="middle">3</text>
<text x="424.89" y="497.2" font-size="7" font-weight="bold" text-anchor="middle">4</text>
<text x="438.98" y="497.2" font-size="7" font-weight="bold" text-anchor="middle">5</text>
<text x="453.08" y="497.2" font-size="7" font-weight="bold" text-anchor="middle">6</text>
<text x="484.8" y="488.9" font-size="7" font-weight="bold" text-anchor="middle">CML</text>
<text x="467.17" y="497.2" font-size="7" font-weight="bold" text-anchor="middle">1</text>
<text x="481.27" y="497.2" font-size="7" font-weight="bold" text-anchor="middle">2</text>
<text x="495.36" y="497.2" font-size="7" font-weight="bold" text-anchor="middle">3</text>
<text x="509.45" y="497.2" font-size="7" font-weight="bold" text-anchor="middle">4</text>
<text x="32.9" y="497" font-size="7" font-weight="bold" text-anchor="middle">Patient Number</text>
<text x="48.4" y="517" font-size="7" font-weight="bold" text-anchor="middle">P-ERK</text>
<text x="48.2" y="542.4" font-size="7" font-weight="bold" text-anchor="middle">P-STAT5</text>
<text x="49.3" y="570.6" font-size="7" font-weight="bold" text-anchor="middle">P-STAT3</text>
<text x="48.4" y="599.6" font-size="7" font-weight="bold" text-anchor="middle">P-AKT</text>
<text x="0.4" y="620.4" font-size="6.95" font-weight="bold">JAK2 Allele Burden</text>
<text x="93.69" y="620.2" font-size="6.3" font-weight="bold" text-anchor="middle">WT</text>
<text x="488.31" y="620.2" font-size="6.3" font-weight="bold" text-anchor="middle">WT</text>
<text x="129.42" y="620.2" font-size="6.3" font-weight="bold" text-anchor="middle">33%</text>
<text x="143.52" y="620.2" font-size="6.3" font-weight="bold" text-anchor="middle">38%</text>
<text x="157.61" y="620.2" font-size="6.3" font-weight="bold" text-anchor="middle">19%</text>
<text x="171.7" y="620.2" font-size="6.3" font-weight="bold" text-anchor="middle">15%</text>
<text x="185.8" y="620.2" font-size="6.3" font-weight="bold" text-anchor="middle">2%</text>
<text x="199.89" y="620.2" font-size="6.3" font-weight="bold" text-anchor="middle">13%</text>
<text x="213.98" y="620.2" font-size="6.3" font-weight="bold" text-anchor="middle">ND</text>
<text x="228.08" y="620.2" font-size="6.3" font-weight="bold" text-anchor="middle">ND</text>
<text x="242.17" y="620.2" font-size="6.3" font-weight="bold" text-anchor="middle">29%</text>
<text x="256.27" y="620.2" font-size="6.3" font-weight="bold" text-anchor="middle">WT</text>
<text x="270.36" y="620.2" font-size="6.3" font-weight="bold" text-anchor="middle">WT</text>
<text x="284.45" y="620.2" font-size="6.3" font-weight="bold" text-anchor="middle">WT</text>
<text x="298.55" y="620.2" font-size="6.3" font-weight="bold" text-anchor="middle">14%</text>
<text x="312.64" y="620.2" font-size="6.3" font-weight="bold" text-anchor="middle">WT</text>
<text x="326.73" y="620.2" font-size="6.3" font-weight="bold" text-anchor="middle">WT</text>
<text x="340.83" y="620.2" font-size="6.3" font-weight="bold" text-anchor="middle">WT</text>
<text x="354.92" y="620.2" font-size="6.3" font-weight="bold" text-anchor="middle">WT</text>
<text x="369.02" y="620.2" font-size="6.3" font-weight="bold" text-anchor="middle">WT</text>
<text x="383.11" y="620.2" font-size="6.3" font-weight="bold" text-anchor="middle">WT</text>
<text x="397.2" y="620.2" font-size="6.3" font-weight="bold" text-anchor="middle">WT</text>
<text x="411.3" y="620.2" font-size="6.3" font-weight="bold" text-anchor="middle">61%</text>
<text x="425.39" y="620.2" font-size="6.3" font-weight="bold" text-anchor="middle">81%</text>
<text x="439.48" y="620.2" font-size="6.3" font-weight="bold" text-anchor="middle">98%</text>
<text x="453.58" y="620.2" font-size="6.3" font-weight="bold" text-anchor="middle">75%</text>
<defs><linearGradient id="hot" x1="0" x2="1" y1="0" y2="0"><stop offset="0" stop-color="#000"/><stop offset="0.085" stop-color="#220000"/><stop offset="0.17" stop-color="#520000"/><stop offset="0.25" stop-color="#940000"/><stop offset="0.33" stop-color="#d40000"/><stop offset="0.42" stop-color="#ff1800"/><stop offset="0.5" stop-color="#ff4600"/><stop offset="0.58" stop-color="#ff7200"/><stop offset="0.665" stop-color="#ffa000"/><stop offset="0.672" stop-color="#ffe400"/><stop offset="0.76" stop-color="#ffff10"/><stop offset="0.86" stop-color="#ffff88"/><stop offset="1" stop-color="#fffff8"/></linearGradient></defs>
<rect x="65.8" y="633.6" width="139.6" height="10.5" fill="url(#hot)"/>
<line x1="205.4" y1="633.6" x2="205.4" y2="644.1" stroke="#333" stroke-width="0.8"/>
<line x1="159.4" y1="633.6" x2="159.4" y2="644.1" stroke="#a08000" stroke-width="0.6" opacity="0.5"/>
<text x="68.8" y="649.2" font-size="4.6" font-weight="bold" text-anchor="middle" fill="#222">1.0</text>
<text x="91.63" y="649.2" font-size="4.6" font-weight="bold" text-anchor="middle" fill="#222">1.5</text>
<text x="114.47" y="649.2" font-size="4.6" font-weight="bold" text-anchor="middle" fill="#222">2.0</text>
<text x="137.3" y="649.2" font-size="4.6" font-weight="bold" text-anchor="middle" fill="#222">2.5</text>
<text x="160.13" y="649.2" font-size="4.6" font-weight="bold" text-anchor="middle" fill="#222">3.0</text>
<text x="182.97" y="649.2" font-size="4.6" font-weight="bold" text-anchor="middle" fill="#222">3.5</text>
<text x="205.8" y="649.2" font-size="4.6" font-weight="bold" text-anchor="middle" fill="#222">4.0</text>
</svg></body></html>
